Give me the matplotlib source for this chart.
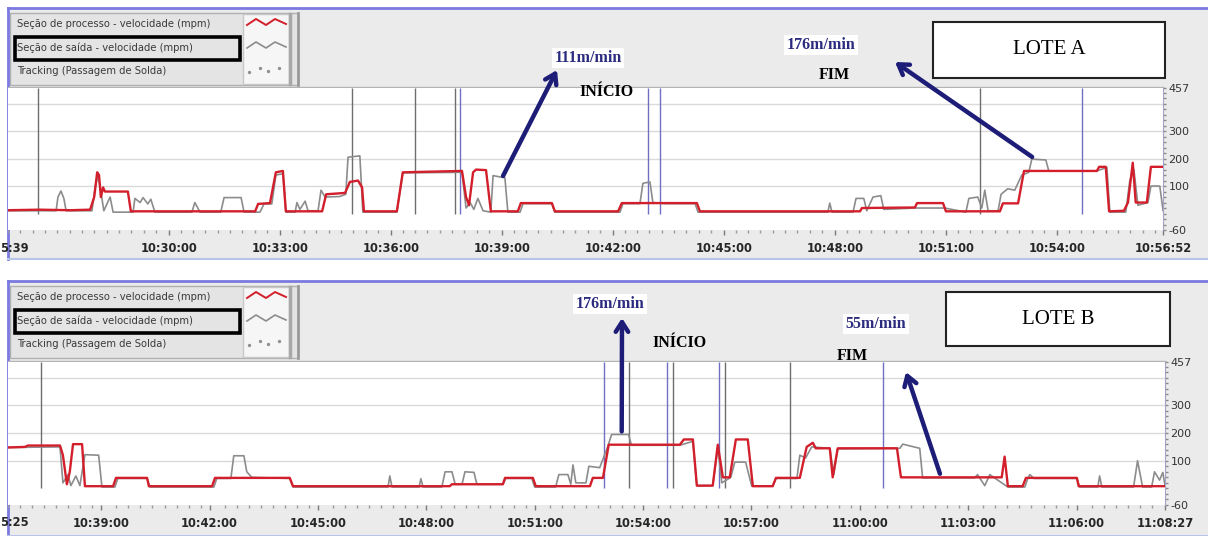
import matplotlib
matplotlib.use("Agg")
import matplotlib.pyplot as plt
from matplotlib.patches import Rectangle

# ---- data (time in minutes after 10:00, speed in mpm) ----
# Lote A
a_proc_t = [25.65, 26.51, 27.33, 27.87, 27.98, 28.06, 28.11, 28.16, 28.22, 28.27, 28.89, 28.97,
            32.33, 32.41, 32.73, 32.89, 33.08, 33.16, 34.14, 34.25, 34.76, 34.89, 35.11, 35.22,
            35.27, 36.16, 36.32, 37.92, 38.03, 38.11, 38.22, 38.30, 38.57, 38.70, 39.43, 39.51,
            40.35, 40.43, 42.14, 42.24, 44.27, 44.35, 48.68, 48.73, 50.16, 50.22, 50.92, 51.00,
            52.46, 52.54, 52.95, 53.11, 55.08, 55.14, 55.32, 55.41, 55.81, 55.92, 56.05, 56.13,
            56.43, 56.54, 56.87]
a_proc_v = [12, 14, 12, 14, 60, 150, 140, 60, 95, 80, 80, 8,
            8, 35, 38, 150, 155, 8, 8, 70, 75, 115, 120, 95,
            8, 8, 150, 155, 60, 30, 150, 160, 158, 8, 8, 38,
            38, 8, 8, 38, 38, 8, 8, 20, 22, 38, 38, 8,
            8, 37, 37, 155, 155, 170, 170, 8, 10, 40, 185, 40,
            40, 170, 170]
a_exit_t = [25.65, 26.95, 27.00, 27.08, 27.16, 27.22, 27.92, 28.00, 28.08, 28.16, 28.24, 28.41,
            28.49, 29.03, 29.08, 29.22, 29.30, 29.43, 29.51, 29.62, 30.62, 30.70, 30.78, 30.84,
            31.40, 31.49, 31.95, 32.03, 32.46, 32.57, 32.78, 32.89, 33.08, 33.16, 33.41, 33.46,
            33.54, 33.68, 33.76, 34.03, 34.11, 34.22, 34.62, 34.78, 34.84, 35.16, 35.24, 36.16,
            36.32, 37.92, 38.03, 38.14, 38.24, 38.35, 38.49, 38.70, 38.76, 39.08, 39.16, 39.49,
            39.57, 40.35, 40.43, 42.19, 42.27, 42.73, 42.81, 43.00, 43.08, 43.41, 44.22, 44.30,
            47.81, 47.86, 47.92, 48.49, 48.57, 48.78, 48.86, 49.03, 49.24, 49.32, 50.16, 50.97,
            51.54, 51.62, 51.86, 51.97, 52.05, 52.14, 52.41, 52.49, 52.67, 52.86, 53.05, 53.24,
            53.32, 53.70, 53.78, 55.08, 55.35, 55.43, 55.86, 55.97, 56.08, 56.19, 56.46, 56.54,
            56.78, 56.87]
a_exit_v = [10, 10, 60, 82, 55, 10, 10, 90, 140, 80, 10, 60,
            5, 5, 55, 40, 58, 35, 52, 5, 5, 40, 20, 5,
            5, 58, 58, 5, 5, 35, 35, 140, 145, 5, 5, 40,
            15, 45, 10, 10, 85, 60, 62, 70, 205, 210, 5, 5,
            148, 150, 20, 40, 15, 55, 10, 5, 138, 130, 5, 5,
            36, 36, 5, 5, 36, 36, 110, 115, 40, 36, 36, 5,
            5, 38, 5, 5, 55, 55, 10, 60, 65, 15, 20, 20,
            5, 55, 60, 20, 85, 10, 10, 70, 90, 85, 140, 150,
            198, 195, 155, 155, 168, 5, 5, 120, 160, 30, 40, 100,
            100, 10]
a_weld_t = [26.46, 34.95, 36.65, 37.73, 37.87, 42.95, 43.27, 51.92, 54.68]
a_weld_kind = ["g", "g", "g", "g", "b", "b", "b", "g", "b"]
a_ticks = [30, 33, 36, 39, 42, 45, 48, 51, 54, 56.867]
a_tick_labels = ["10:30:00", "10:33:00", "10:36:00", "10:39:00", "10:42:00", "10:45:00",
                 "10:48:00", "10:51:00", "10:54:00", "10:56:52"]
a_xlim = (25.65, 56.867)
a_start = (39.03, 137)   # point where INÍCIO arrow starts
a_end = (53.33, 206)     # point where FIM arrow starts

# Lote B
b_proc_t = [36.42, 36.89, 36.97, 37.86, 37.94, 38.05, 38.13, 38.22, 38.47, 38.55, 39.33, 39.41,
            40.27, 40.32, 42.07, 42.15, 44.22, 44.31, 48.65, 48.71, 50.12, 50.18, 50.95, 51.03,
            52.53, 52.61, 52.89, 53.05, 55.02, 55.13, 55.38, 55.49, 55.93, 56.07, 56.21, 56.40,
            56.57, 56.90, 57.04, 57.59, 57.68, 58.34, 58.53, 58.70, 58.78, 59.17, 59.25, 59.39,
            61.03, 61.14, 63.93, 64.01, 64.10, 64.51, 64.60, 66.01, 66.06, 68.45]
b_proc_v = [148, 150, 155, 155, 120, 15, 60, 160, 160, 8, 8, 38,
            38, 8, 8, 38, 38, 8, 8, 15, 15, 38, 38, 8,
            8, 38, 38, 158, 158, 177, 177, 10, 10, 158, 40, 40,
            177, 177, 8, 8, 38, 38, 150, 165, 145, 145, 40, 145,
            145, 40, 40, 115, 8, 8, 38, 38, 8, 8]
b_exit_t = [36.42, 37.86, 37.94, 38.08, 38.16, 38.30, 38.41, 38.55, 38.93, 39.02, 39.38, 39.46,
            40.27, 40.35, 42.12, 42.20, 42.59, 42.67, 42.95, 43.03, 43.17, 44.22, 44.31, 46.94,
            46.99, 47.05, 47.80, 47.85, 47.91, 48.43, 48.52, 48.71, 48.80, 48.99, 49.07, 49.32,
            49.40, 50.12, 50.20, 50.92, 51.00, 51.58, 51.67, 51.92, 52.00, 52.06, 52.14, 52.42,
            52.50, 52.80, 53.02, 53.13, 53.60, 53.68, 55.02, 55.38, 55.49, 55.93, 56.07, 56.18,
            56.43, 56.54, 56.84, 57.01, 57.59, 57.68, 58.26, 58.34, 58.50, 58.67, 59.17, 59.28,
            59.39, 61.11, 61.19, 61.66, 61.74, 63.18, 63.26, 63.46, 63.60, 63.73, 64.10, 64.57,
            64.65, 64.71, 64.82, 66.01, 66.09, 66.59, 66.64, 66.70, 67.58, 67.69, 67.83, 68.08,
            68.16, 68.30, 68.39, 68.45]
b_exit_v = [148, 150, 20, 50, 10, 45, 10, 122, 120, 5, 5, 36,
            36, 5, 5, 36, 36, 118, 118, 60, 40, 36, 5, 5,
            45, 5, 5, 35, 5, 5, 60, 60, 15, 15, 60, 58,
            15, 15, 36, 36, 5, 5, 50, 50, 15, 85, 20, 20,
            80, 75, 150, 195, 195, 156, 156, 170, 10, 10, 150, 20,
            40, 95, 95, 8, 8, 36, 36, 120, 110, 150, 145, 50,
            143, 145, 160, 145, 38, 38, 50, 10, 50, 38, 5, 5,
            36, 50, 36, 36, 5, 5, 45, 5, 5, 100, 5, 5,
            60, 30, 58, 10]
b_weld_t = [37.33, 52.92, 53.61, 54.66, 54.83, 56.10, 56.26, 58.06, 60.64]
b_weld_kind = ["g", "b", "g", "b", "g", "b", "g", "g", "b"]
b_ticks = [39, 42, 45, 48, 51, 54, 57, 60, 63, 66, 68.45]
b_tick_labels = ["10:39:00", "10:42:00", "10:45:00", "10:48:00", "10:51:00", "10:54:00",
                 "10:57:00", "11:00:00", "11:03:00", "11:06:00", "11:08:27"]
b_xlim = (36.42, 68.45)
b_start = (53.41, 206)
b_end = (62.22, 53)

y_ticks = [-60, 100, 200, 300, 457]
legend_labels = ["Seção de processo - velocidade (mpm)",
                 "Seção de saída - velocidade (mpm)",
                 "Tracking (Passagem de Solda)"]

W, H = 1208, 536
fig = plt.figure(figsize=(W / 100, H / 100), dpi=100)
fig.patch.set_facecolor("white")

# background layer in image pixel coordinates
bg = fig.add_axes([0, 0, 1, 1], zorder=0)
bg.set_xlim(0, W)
bg.set_ylim(H, 0)
bg.axis("off")
over = fig.add_axes([0, 0, 1, 1], zorder=5)
over.set_xlim(0, W)
over.set_ylim(H, 0)
over.axis("off")

RED = "#d21f2b"
GREY = "#8c8c8c"
NAVY = "#1d1d78"
PURPLE = "#7a7ae0"


def frac(x0, y0, x1, y1):
    return [x0 / W, (H - y1) / H, (x1 - x0) / W, (y1 - y0) / H]


def panel(top, bottom, plot_top, plot_bottom, plot_right, t_proc, v_proc, t_exit, v_exit,
          weld_t, weld_kind, ticks, tick_labels, xlim, left_label):
    # grey frame
    bg.add_patch(Rectangle((8, top), W - 8, bottom - top, facecolor="#ebebeb", edgecolor="none"))
    bg.plot([8, W], [top, top], color=PURPLE, lw=2)
    bg.plot([8, 8], [top, bottom], color=PURPLE, lw=2)
    bg.plot([8, W], [bottom, bottom], color="#b8c4ea", lw=1.5)
    bg.plot([8, plot_right], [plot_top - 1, plot_top - 1], color="#b4b4b4", lw=1)

    # legend block
    bg.add_patch(Rectangle((10, top + 5), 288, 72, facecolor="#e4e4e4", edgecolor="#b0b0b0", lw=1))
    bg.plot([298, 298], [top + 5, top + 77], color="#9a9a9a", lw=2)
    for i, lab in enumerate(legend_labels):
        bg.text(17, top + 16 + i * 23.5, lab, fontsize=7.2, color="#3a3a3a", va="center",
                family="DejaVu Sans")
    bg.add_patch(Rectangle((15, top + 29), 225, 23, facecolor="none", edgecolor="black", lw=2.6))
    bg.add_patch(Rectangle((243, top + 6), 46, 70, facecolor="#f6f6f6", edgecolor="#c8c8c8", lw=1))
    bg.plot([290, 290], [top + 6, top + 76], color="#a8a8a8", lw=2.5)
    bg.plot([247, 256, 266, 275, 286], [top + 17, top + 11, top + 17, top + 11, top + 16],
            color=RED, lw=1.4)
    bg.plot([247, 256, 266, 275, 286], [top + 40, top + 34, top + 40, top + 34, top + 39],
            color=GREY, lw=1.2)
    bg.scatter([249, 260, 268, 279], [top + 64, top + 60, top + 63, top + 60], s=2, color="#909090")

    ax = fig.add_axes(frac(8, plot_top, plot_right, plot_bottom), zorder=2)
    ax.set_facecolor("white")
    ax.set_xlim(*xlim)
    ax.set_ylim(-60, 457)
    for lvl in [100, 200, 300, 400]:
        ax.axhline(lvl, color="#dadada", lw=1, zorder=1)
    for t, k in zip(weld_t, weld_kind):
        ax.vlines(t, 0, 457, colors="#6f6fc4" if k == "b" else "#6e6e6e", lw=1, zorder=2)
    ax.plot(t_exit, v_exit, color=GREY, lw=1.2, zorder=3)
    ax.plot(t_proc, v_proc, color=RED, lw=1.7, zorder=4)

    for s in ["top", "left", "bottom"]:
        ax.spines[s].set_visible(False)
    ax.spines["right"].set_color("#a4a4c8")
    ax.yaxis.tick_right()
    ax.set_yticks(y_ticks)
    ax.set_yticklabels([str(v) for v in y_ticks], fontsize=8, color="#333333")
    ax.set_yticks(range(-60, 457, 20), minor=True)
    ax.tick_params(axis="y", which="both", length=2, width=1, color="#8a8a8a", pad=2)
    ax.set_xticks(ticks)
    ax.set_xticklabels(tick_labels, fontsize=8.3, fontweight="bold", color="#262626")
    # minor ticks every 20 s, skipping those that sit on a major tick
    minor = [xlim[0] + i / 3 for i in range(int((xlim[1] - xlim[0]) * 3) + 1)]
    minor = [m for m in minor if min(abs(m - t) for t in ticks) > 0.12]
    ax.set_xticks(minor, minor=True)
    ax.tick_params(axis="x", which="minor", length=2.5, width=1, color="#9a9a9a", pad=6)
    ax.tick_params(axis="x", which="major", length=3.5, width=1, color="#7a7a7a", pad=5)
    bg.text(0, plot_bottom + 18, left_label, fontsize=8.3, fontweight="bold", color="#262626",
            va="center", ha="left")
    return ax


ax_a = panel(8, 259, 88, 230, 1163, a_proc_t, a_proc_v, a_exit_t, a_exit_v,
             a_weld_t, a_weld_kind, a_ticks, a_tick_labels, a_xlim, "5:39")
ax_b = panel(281, 536, 362, 505, 1165, b_proc_t, b_proc_v, b_exit_t, b_exit_v,
             b_weld_t, b_weld_kind, b_ticks, b_tick_labels, b_xlim, "5:25")

arrow = dict(arrowstyle="->,head_length=0.7,head_width=0.45", color=NAVY, lw=3.2,
             shrinkA=0, shrinkB=0)


def fig_px(x, y):
    return (x, H - y)


# arrows start at the data point and point to the labels
ax_a.annotate("", xy=fig_px(557, 70), xycoords="figure pixels", xytext=a_start,
              textcoords="data", arrowprops=arrow, annotation_clip=False)
ax_a.annotate("", xy=fig_px(895, 62), xycoords="figure pixels", xytext=a_end,
              textcoords="data", arrowprops=arrow, annotation_clip=False)
ax_b.annotate("", xy=fig_px(622, 318), xycoords="figure pixels", xytext=b_start,
              textcoords="data", arrowprops=arrow, annotation_clip=False)
ax_b.annotate("", xy=fig_px(906, 372), xycoords="figure pixels", xytext=b_end,
              textcoords="data", arrowprops=arrow, annotation_clip=False)

speed_box = dict(boxstyle="square,pad=0.15", facecolor="white", edgecolor="none")
serif = "Liberation Serif"


def speed(x, y, s):
    over.text(x, y, s, fontsize=11.5, fontweight="bold", color="#2b2b80", family=serif,
              ha="center", va="center", bbox=speed_box)


def word(x, y, s):
    over.text(x, y, s, fontsize=11.5, fontweight="bold", color="black", family=serif,
              ha="center", va="center")


def lote(x0, y0, x1, y1, s):
    over.add_patch(Rectangle((x0, y0), x1 - x0, y1 - y0, facecolor="white",
                             edgecolor="#222222", lw=1.5))
    over.text((x0 + x1) / 2, (y0 + y1) / 2, s, fontsize=15, family=serif, color="black",
              ha="center", va="center")


speed(588, 58, "111m/min")
word(607, 92, "INÍCIO")
speed(821, 45, "176m/min")
word(834, 75, "FIM")
lote(933, 22, 1165, 78, "LOTE A")

speed(610, 304, "176m/min")
word(680, 343, "INÍCIO")
speed(876, 324, "55m/min")
word(852, 356, "FIM")
lote(946, 292, 1170, 346, "LOTE B")

fig.savefig("out.png", dpi=100)
